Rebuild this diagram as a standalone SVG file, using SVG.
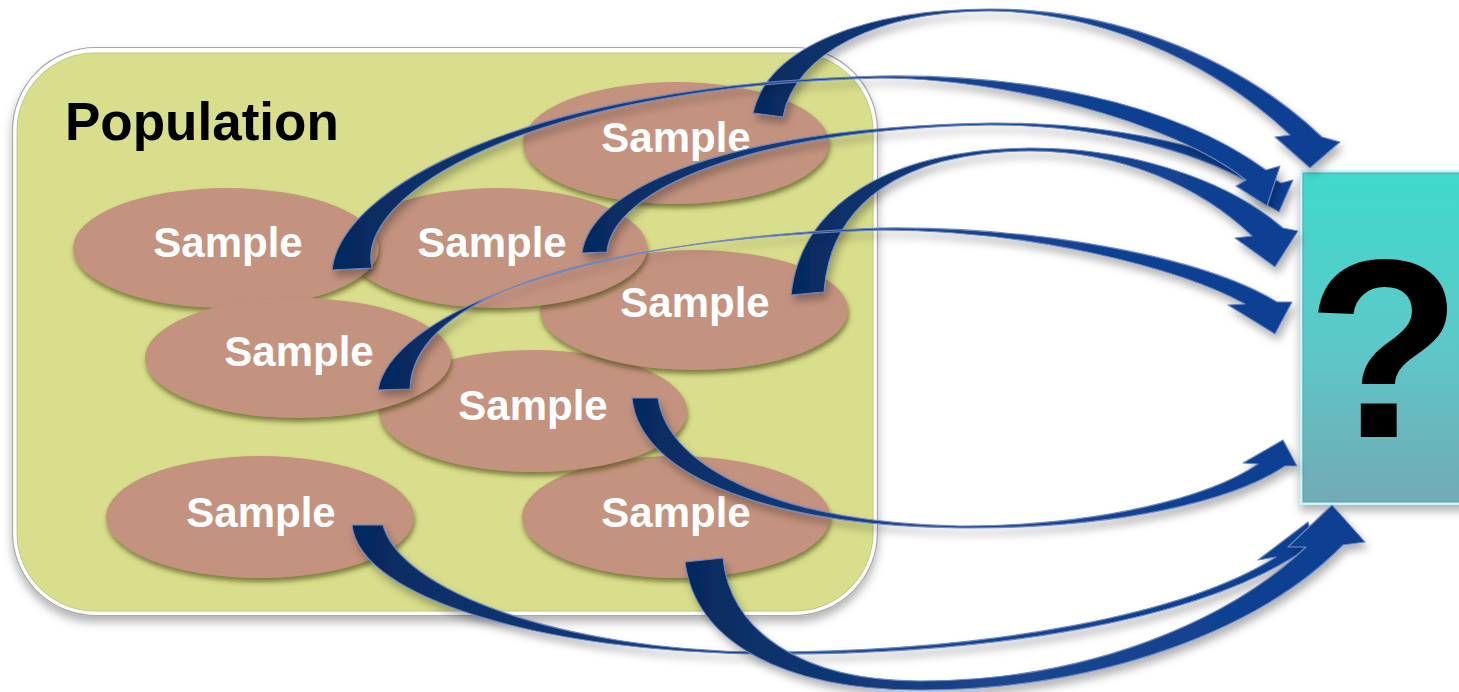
<svg xmlns="http://www.w3.org/2000/svg" width="1459" height="692" viewBox="0 0 1459 692">
<defs>
<style>
.lbl{font-family:"Liberation Sans",Arial,sans-serif;font-weight:bold;font-size:42px;fill:#ffffff;text-anchor:middle}
.ell{fill:#c4937f;filter:url(#eshadow)}
.arr{fill:url(#agrad);stroke:#6f88bf;stroke-width:1.1;stroke-linejoin:round;filter:url(#ashadow)}
</style>
<filter id="eshadow" x="-10%" y="-20%" width="120%" height="150%">
<feDropShadow dx="1" dy="4" stdDeviation="2.5" flood-color="#4a4a12" flood-opacity="0.65"/>
</filter>
<filter id="ashadow" x="-10%" y="-20%" width="120%" height="150%">
<feDropShadow dx="3" dy="6" stdDeviation="4" flood-color="#000000" flood-opacity="0.3"/>
</filter>
<filter id="bshadow" x="-5%" y="-5%" width="110%" height="115%">
<feDropShadow dx="0" dy="6" stdDeviation="5" flood-color="#000000" flood-opacity="0.3"/>
</filter>
<linearGradient id="agrad" x1="0" y1="0" x2="1" y2="0">
<stop offset="0" stop-color="#052a5e"/>
<stop offset="0.45" stop-color="#1c468e"/>
<stop offset="1" stop-color="#0a3f93"/>
</linearGradient>
<linearGradient id="qgrad" x1="0" y1="0" x2="0" y2="1">
<stop offset="0" stop-color="#3fdacd"/>
<stop offset="0.5" stop-color="#5cc9c8"/>
<stop offset="1" stop-color="#72aab6"/>
</linearGradient>
</defs>

<g id="population">
<rect x="12.5" y="47.5" width="865" height="568" rx="83" fill="#ffffff" stroke="#a8a8a8" stroke-width="1.2" filter="url(#bshadow)"/>
<rect x="17" y="53" width="856" height="558" rx="78" fill="#d9de8c" stroke="#c3c77a" stroke-width="1"/>
<text x="65" y="140" style="font-family:'Liberation Sans',Arial,sans-serif;font-weight:bold;font-size:53px;fill:#000000">Population</text>
</g>

<g id="sample-top">
<ellipse class="ell" cx="676" cy="143" rx="153" ry="61"/>
<text class="lbl" x="676" y="152">Sample</text>
</g>
<g id="sample-bottom-right">
<ellipse class="ell" cx="676" cy="517" rx="154" ry="61"/>
<text class="lbl" x="676" y="527">Sample</text>
</g>
<g id="sample-bottom-left">
<ellipse class="ell" cx="260" cy="517" rx="154" ry="61"/>
<text class="lbl" x="261" y="527">Sample</text>
</g>
<g id="sample-center">
<ellipse class="ell" cx="533" cy="411" rx="154" ry="61"/>
<text class="lbl" x="533" y="420">Sample</text>
</g>
<g id="sample-right-mid">
<ellipse class="ell" cx="694" cy="310" rx="154" ry="60"/>
<text class="lbl" x="695" y="317">Sample</text>
</g>
<g id="sample-middle">
<ellipse class="ell" cx="497" cy="248" rx="150" ry="60"/>
<text class="lbl" x="492" y="257">Sample</text>
</g>
<g id="sample-left">
<ellipse class="ell" cx="226" cy="248" rx="153" ry="60"/>
<text class="lbl" x="228" y="257">Sample</text>
</g>
<g id="sample-left-mid">
<ellipse class="ell" cx="298" cy="358" rx="153" ry="60"/>
<text class="lbl" x="299" y="366">Sample</text>
</g>

<g id="unknown">
<rect x="1300" y="170" width="175" height="335" fill="#c8f6fb" filter="url(#bshadow)"/>
<rect x="1303" y="173" width="172" height="329" fill="url(#qgrad)" stroke="#5aa0a8" stroke-width="1"/>
<text x="1384" y="437" style="font-family:'Liberation Sans',Arial,sans-serif;font-weight:bold;font-size:254px;fill:#000000;text-anchor:middle">?</text>
</g>

<g id="connectors">
<path class="arr" d="M 753,113 C 768,45 870,9 990,9 C 1130,9 1250,68 1322,137 L 1340,142 L 1310,168 L 1275,137 L 1290,135 C 1230,78 1120,12 990,11 C 880,11 795,52 783,117 Z"/>
<path class="arr" d="M 582,253 C 590,190 720,128 990,123 C 1120,122 1225,150 1281,183 L 1293,180 L 1279,212 L 1248,194 L 1263,191 C 1210,156 1110,125 990,125 C 750,129 612,190 607,252 Z"/>
<path class="arr" d="M 332,270 C 340,190 520,85 880,76 C 1020,74 1170,100 1266,170 L 1280,166 L 1267,206 L 1236,186 L 1246,180 C 1170,120 1000,78 880,78 C 525,87 355,195 372,268 Z"/>
<path class="arr" d="M 791,295 C 800,210 880,150 1030,148 C 1150,148 1240,190 1283,228 L 1298,231 L 1275,267 L 1235,238 L 1252,236 C 1200,186 1120,151 1030,151 C 900,152 830,205 824,292 Z"/>
<path class="arr" d="M 378,390 C 390,320 560,240 880,228 C 1030,226 1200,255 1277,302 L 1292,302 L 1275,334 L 1228,305 L 1245,304 C 1180,268 1030,230 880,230 C 545,242 412,310 410,389 Z"/>
<path class="arr" d="M 632,398 C 640,480 780,526 960,528 C 1120,529 1235,500 1285,466 L 1297,466 L 1283,440 L 1243,463 L 1258,464 C 1210,497 1100,526 960,526 C 785,523 668,470 658,398 Z"/>
<path class="arr" d="M 352,525 C 360,600 550,652 760,654 C 1000,656 1200,618 1300,553 L 1318,556 L 1308,522 L 1258,560 L 1276,557 C 1190,612 1000,652 760,652 C 560,650 400,590 383,525 Z"/>
<path class="arr" d="M 685,562 C 695,640 780,690 920,690 C 1100,690 1260,630 1343,545 L 1365,542 L 1332,505 L 1288,547 L 1306,547 C 1230,620 1090,681 920,681 C 800,681 730,630 723,558 Z"/>
</g>
</svg>
